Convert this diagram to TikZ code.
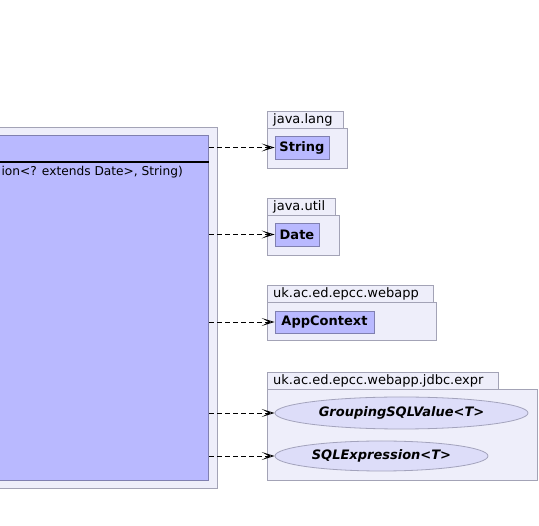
\documentclass[tikz,border=0pt]{standalone}
\usepackage{fontspec}
\setmainfont{DejaVu Sans}
\usetikzlibrary{arrows.meta,shapes.geometric}
\definecolor{pkgfill}{HTML}{EEEEFA}
\definecolor{pkgline}{HTML}{A3A3B6}
\definecolor{clsfill}{HTML}{B9B9FF}
\definecolor{clsline}{HTML}{8080B0}
\definecolor{ifcfill}{HTML}{DDDDF9}
\definecolor{ifcline}{HTML}{A3A3BC}
\newcommand{\umlfont}{\fontsize{13}{15}\selectfont}
\tikzset{
	pkg/.style={draw=pkgline,fill=pkgfill,line width=0.8pt},
	pkgname/.style={anchor=base west,inner sep=0pt,font=\umlfont},
	cls/.style={draw=clsline,fill=clsfill,line width=0.8pt,inner sep=0pt,font=\umlfont\bfseries},
	ifc/.style={ellipse,draw=ifcline,fill=ifcfill,line width=0.8pt,inner sep=0pt,font=\umlfont\bfseries\itshape},
	dep/.style={line width=0.8pt,dash pattern=on 5pt off 3pt,-{Stealth[open,length=13pt,width=8pt,inset=7pt]}}
}
\begin{document}
\begin{tikzpicture}[x=1pt,y=-1pt]
	\useasboundingbox(0,0)rectangle(539,526);
	\clip(0,0)rectangle(539,526);
	% left package and class
	\draw[pkg](-20,127)rectangle(217,488);
	\node[cls,anchor=north east,minimum width=240,minimum height=345](ctx)at(209,135){};
	\draw[line width=2pt](ctx.west|-0,162.5)--(ctx.east|-0,162.5);
	\node[anchor=base east,inner sep=0pt,font=\fontsize{12.2}{15}\selectfont](op)at(183,176){ion<? extends Date>, String)};
	% packages on the right
	\foreach \ty/\tw/\bw/\bh/\lbl [count=\i] in {111/76/80/40/java.lang,198/68/72/40/java.util,285/166/169/38/uk.ac.ed.epcc.webapp,372/231/270/91/uk.ac.ed.epcc.webapp.jdbc.expr} {
		\draw[pkg](267,\ty)rectangle++(\tw,17);
		\draw[pkg](267,\ty+17)rectangle++(\bw,\bh);
		\node[pkgname](pkg\i)at(273,\ty+13){\lbl};
	}
	\node[cls,minimum width=54,minimum height=23](string)at(302,147.5){String};
	\node[cls,minimum width=44,minimum height=23](date)at(297,234.5){Date};
	\node[cls,minimum width=99,minimum height=22](appctx)at(324.5,322){AppContext};
	\node[ifc,minimum width=253,minimum height=32](grouping)at(401.5,413){GroupingSQLValue<T>};
	\node[ifc,minimum width=213,minimum height=30](sqlexpr)at(381.5,456){SQLExpression<T>};
	% dependencies
	\foreach \t in {string,date,appctx,grouping,sqlexpr}
		\draw[dep](ctx.east|-\t.west)--(\t.west);
\end{tikzpicture}
\end{document}
